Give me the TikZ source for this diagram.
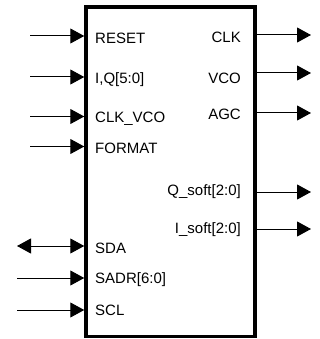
\documentclass[tikz,border=0pt]{standalone}
\usepackage{fontspec}
\setmainfont{Liberation Sans}
\usepackage{tikz}
\usetikzlibrary{arrows.meta}

\begin{document}
\begin{tikzpicture}[x=1pt,y=-1pt,
  font=\fontsize{15}{17}\selectfont,
  port/.style={line width=1pt,-{Triangle[length=14pt,width=15pt]}},
  biport/.style={line width=1pt,{Triangle[length=14pt,width=15pt]}-{Triangle[length=14pt,width=15pt]}},
  inlbl/.style={anchor=base west,inner sep=0pt},
  outlbl/.style={anchor=base east,inner sep=0pt}]
\useasboundingbox (0,0) rectangle (320,339);
\node[draw,line width=3.5pt,minimum width=169pt,minimum height=329.5pt,inner sep=0pt] (blk) at (170.5,171.75) {};
% inputs
\coordinate (reset-in) at (30,36);
\coordinate (iq-in) at (30,77);
\coordinate (clkvco-in) at (30,116.5);
\coordinate (format-in) at (30,146.5);
\coordinate (sda-in) at (17,246);
\coordinate (sadr-in) at (17,278);
\coordinate (scl-in) at (17,310);
\draw[port] (reset-in) -- (reset-in -| blk.west);
\draw[port] (iq-in) -- (iq-in -| blk.west);
\draw[port] (clkvco-in) -- (clkvco-in -| blk.west);
\draw[port] (format-in) -- (format-in -| blk.west);
\draw[biport] (sda-in) -- (sda-in -| blk.west);
\draw[port] (sadr-in) -- (sadr-in -| blk.west);
\draw[port] (scl-in) -- (scl-in -| blk.west);
\node[inlbl] (reset) at (95,44) {RESET};
\node[inlbl] (iq) at (95,84) {I,Q[5:0]};
\node[inlbl] (clkvco) at (95,122.5) {CLK\_VCO};
\node[inlbl] (format) at (95,153) {FORMAT};
\node[inlbl] (sda) at (95,253) {SDA};
\node[inlbl] (sadr) at (95,283.5) {SADR[6:0]};
\node[inlbl] (scl) at (95,315.5) {SCL};
% outputs
\coordinate (clk-out) at (311,35);
\coordinate (vco-out) at (311,73);
\coordinate (agc-out) at (311,113);
\coordinate (qsoft-out) at (311,192);
\coordinate (isoft-out) at (311,229);
\draw[port] (clk-out -| blk.east) -- (clk-out);
\draw[port] (vco-out -| blk.east) -- (vco-out);
\draw[port] (agc-out -| blk.east) -- (agc-out);
\draw[port] (qsoft-out -| blk.east) -- (qsoft-out);
\draw[port] (isoft-out -| blk.east) -- (isoft-out);
\node[outlbl] (clk) at (241,43) {CLK};
\node[outlbl] (vco) at (241,84) {VCO};
\node[outlbl] (agc) at (241,120) {AGC};
\node[outlbl] (qsoft) at (241,195) {Q\_soft[2:0]};
\node[outlbl] (isoft) at (241,233) {I\_soft[2:0]};
\end{tikzpicture}
\end{document}
